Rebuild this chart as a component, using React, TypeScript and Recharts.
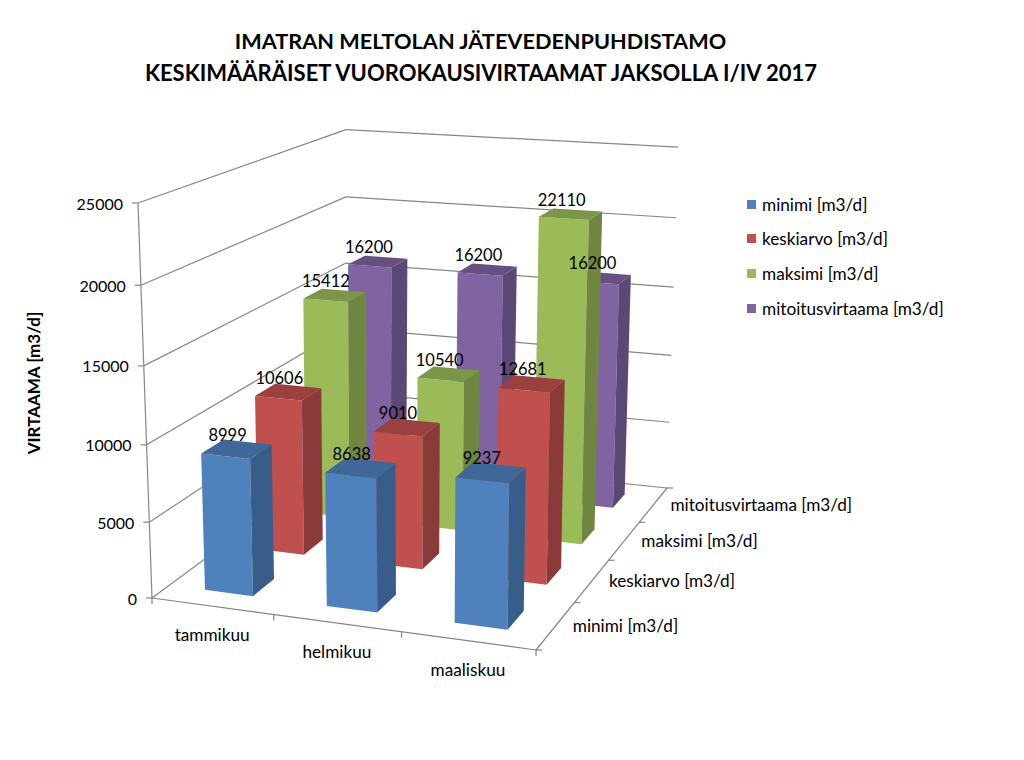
import React from "react";
import { BarChart, Bar, XAxis, YAxis, Legend } from "recharts";

const categories = ["tammikuu", "helmikuu", "maaliskuu"];
const seriesNames = [
  "minimi [m3/d]",
  "keskiarvo [m3/d]",
  "maksimi [m3/d]",
  "mitoitusvirtaama [m3/d]",
];
const minimi = [8999, 8638, 9237];
const keskiarvo = [10606, 9010, 12681];
const maksimi = [15412, 10540, 22110];
const mitoitus = [16200, 16200, 16200];
const seriesValues = [minimi, keskiarvo, maksimi, mitoitus];
const yTicks = [0, 5000, 10000, 15000, 20000, 25000];

// front, side, top
const seriesColors = [
  ["#4f81bd", "#385d8a", "#3f6797"],
  ["#c0504d", "#8a3a38", "#9a403e"],
  ["#9bbb59", "#6f8640", "#7c9647"],
  ["#8064a2", "#5b4874", "#665082"],
];

const tableData = categories.map((name, i) => {
  const row: Record<string, string | number> = { name };
  seriesNames.forEach((s, j) => {
    row[s] = seriesValues[j][i];
  });
  return row;
});

const WIDTH = 1024;
const HEIGHT = 760;
const PLOT_H = 530;
const Y_MAX = 25000;
const GRID = "#868686";
const FONT = "Lato, sans-serif";
const GAP = 0.3; // gap on each side of a bar inside its band, 150% gap width

// camera matrix, (u, v, w) inside the chart box -> page pixels
const project = (u: number, v: number, w: number): [number, number] => {
  const d = -0.07137 * u + 0.22539 * v - 0.05 * w + 1;
  const x = (345.75 * u + 271.98 * v - 20.9 * w + 152) / d;
  const y = (5.61 * u - 40.45 * v - 405.15 * w + 598) / d;
  // small correction, the matrix alone is a few px off at the upper back corners
  return [x + 3 * (1 - u) * v * w, y + 4 * u * w];
};

const poly = (pts: [number, number, number][]) =>
  pts.map((p) => project(p[0], p[1], p[2]).join(",")).join(" ");

const line = (a: [number, number, number], b: [number, number, number], key: string) => {
  const [x1, y1] = project(a[0], a[1], a[2]);
  const [x2, y2] = project(b[0], b[1], b[2]);
  return <line key={key} x1={x1} y1={y1} x2={x2} y2={y2} stroke={GRID} strokeWidth={1.2} />;
};

const tickMark = (a: [number, number, number], dx: number, dy: number, key: string) => {
  const [x, y] = project(a[0], a[1], a[2]);
  return <line key={key} x1={x} y1={y} x2={x + dx} y2={y + dy} stroke={GRID} strokeWidth={1.2} />;
};

const Box = () => (
  <g>
    {yTicks.map((t) => {
      const w = t / Y_MAX;
      return (
        <g key={t}>
          {line([0, 0, w], [0, 1, w], `l${t}`)}
          {line([0, 1, w], [1, 1, w], `b${t}`)}
          {tickMark([0, 0, w], -6, 0, `t${t}`)}
        </g>
      );
    })}
    {line([0, 0, 0], [0, 0, 1], "axis")}
    {line([0, 0, 0], [1, 0, 0], "front")}
    {line([1, 0, 0], [1, 1, 0], "side")}
    {[0, 1, 2, 3].map((i) => tickMark([i / 3, 0, 0], 0, 6, `x${i}`))}
    {[0, 1, 2, 3, 4].map((i) => tickMark([1, i / 4, 0], 6, 0, `z${i}`))}
    {seriesNames.map((s, i) => {
      const [x, y] = project(1, (i + 0.5) / 4, 0);
      return (
        <text key={s} x={x + 17} y={y + 1} dy={5.5} fontSize={17.2} fontFamily={FONT} fill="#000">
          {s}
        </text>
      );
    })}
  </g>
);

const makeBarShape = (s: number) => (props: any) => {
  const { index, height } = props;
  const w = height / PLOT_H;
  const u0 = (index + GAP) / 3;
  const u1 = (index + 1 - GAP) / 3;
  const v0 = (s + GAP) / 4;
  const v1 = (s + 1 - GAP) / 4;
  const [front, side, top] = seriesColors[s];
  return (
    <g>
      <polygon points={poly([[u0, v0, 0], [u1, v0, 0], [u1, v0, w], [u0, v0, w]])} fill={front} />
      <polygon points={poly([[u1, v0, 0], [u1, v1, 0], [u1, v1, w], [u1, v0, w]])} fill={side} />
      <polygon points={poly([[u0, v0, w], [u1, v0, w], [u1, v1, w], [u0, v1, w]])} fill={top} />
    </g>
  );
};

const makeLabelShape = (s: number) => (props: any) => {
  const { index, height, value } = props;
  const [x, y] = project((index + 0.5) / 3, (s + 0.5) / 4, height / PLOT_H);
  const shown = Array.isArray(value) ? value[1] : value;
  return (
    <text x={x - 9} y={y - 14} dy={5.5} textAnchor="middle" fontSize={16.5} fontFamily={FONT} fill="#000">
      {shown}
    </text>
  );
};

const XTick = ({ payload, index }: any) => {
  const [x, y] = project((index + 0.5) / 3, 0, 0);
  return (
    <text x={x} y={y + 29.5} dy={5.5} textAnchor="middle" fontSize={17.2} fontFamily={FONT} fill="#000">
      {payload.value}
    </text>
  );
};

const YTick = ({ payload }: any) => {
  const [x, y] = project(0, 0, payload.value / Y_MAX);
  return (
    <text x={x - 15} y={y + 1} dy={5.5} textAnchor="end" fontSize={16} fontFamily={FONT} fill="#000">
      {payload.value}
    </text>
  );
};

const LegendBox = () => (
  <div style={{ fontFamily: FONT, fontSize: 17.2, color: "#000" }}>
    {seriesNames.map((s, i) => (
      <div key={s} style={{ display: "flex", alignItems: "center", height: 34.6, whiteSpace: "nowrap" }}>
        <span style={{ width: 9, height: 9, marginRight: 6, background: seriesColors[i][0] }} />
        {s}
      </div>
    ))}
  </div>
);

const order = [3, 2, 1, 0];

export default function App() {
  return (
    <div style={{ position: "absolute", left: 0, top: 0 }}>
      <BarChart
        width={WIDTH}
        height={HEIGHT}
        data={tableData}
        margin={{ top: 100, right: 100, bottom: 100, left: 70 }}
      >
        <text x={480.5} y={49} textAnchor="middle" fontSize={21.7} fontWeight="bold" fontFamily={FONT} fill="#000">
          IMATRAN MELTOLAN JÄTEVEDENPUHDISTAMO
        </text>
        <text x={481} y={81} textAnchor="middle" fontSize={22} fontWeight="bold" fontFamily={FONT} fill="#000">
          KESKIMÄÄRÄISET VUOROKAUSIVIRTAAMAT JAKSOLLA I/IV 2017
        </text>
        <text
          x={0}
          y={0}
          transform="translate(40 383) rotate(-90)"
          textAnchor="middle"
          fontSize={17}
          fontWeight="bold"
          fontFamily={FONT}
          fill="#000"
        >
          VIRTAAMA [m3/d]
        </text>
        <Box />
        <XAxis dataKey="name" height={30} axisLine={false} tickLine={false} tick={<XTick />} interval={0} />
        <YAxis
          domain={[0, Y_MAX]}
          ticks={yTicks}
          width={30}
          axisLine={false}
          tickLine={false}
          tick={<YTick />}
        />
        {order.map((s) => (
          <Bar
            key={seriesNames[s]}
            dataKey={seriesNames[s]}
            isAnimationActive={false}
            shape={makeBarShape(s)}
          />
        ))}
        {order.map((s) => (
          <Bar
            key={`label-${seriesNames[s]}`}
            dataKey={seriesNames[s]}
            isAnimationActive={false}
            legendType="none"
            shape={makeLabelShape(s)}
          />
        ))}
        <Legend
          layout="vertical"
          align="right"
          verticalAlign="top"
          content={<LegendBox />}
          wrapperStyle={{ position: "absolute", left: 747, top: 187, width: 240, right: "auto", bottom: "auto" }}
        />
      </BarChart>
    </div>
  );
}
